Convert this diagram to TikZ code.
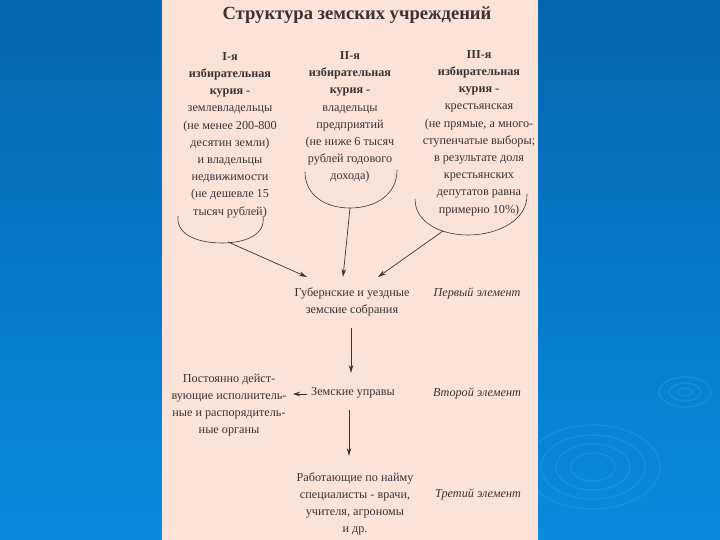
\documentclass[tikz,border=0pt]{standalone}
\usepackage{fontspec}
\setmainfont{Liberation Serif}
\usetikzlibrary{arrows.meta}
\definecolor{ink}{HTML}{3A3333}
\definecolor{bgtop}{HTML}{0466AE}
\definecolor{bgbot}{HTML}{0A8BDF}
\definecolor{panel}{HTML}{FCE3DA}
\definecolor{ripple}{HTML}{3FA4F0}
\begin{document}
\begin{tikzpicture}[x=1pt,y=-1pt,
  txt/.style={font=\fontsize{12.2}{17.2}\selectfont, text=ink, align=center, inner sep=0pt},
  itx/.style={font=\fontsize{12.2}{17.2}\selectfont\itshape, text=ink, inner sep=0pt},
  arc/.style={draw=ink, line width=0.6pt},
  arr/.style={draw=ink, line width=0.7pt, -{Stealth[length=8pt,width=4.5pt]}},
  rip/.style={draw=ripple, line width=1.6pt, opacity=0.28}]
\useasboundingbox (0,0) rectangle (720,540);
\shade[top color=bgtop, bottom color=bgbot] (0,0) rectangle (720,540);
% ripples
\foreach \rx/\ry in {67/42,52/32,37/23,22/14}{\draw[rip] (593,467) ellipse ({\rx} and {\ry});}
\foreach \rx/\ry in {26/15,16/9,7/4}{\draw[rip] (685,392) ellipse ({\rx} and {\ry});}
% panel
\fill[panel] (162,0) rectangle (538,540);
% title
\node[text=ink, font=\fontsize{18.6}{20}\selectfont\bfseries, inner sep=0pt] (title) at (357,15) {Структура земских учреждений};
% curiae
\node[txt] (c1) at (230,135) {\textbf{I-я}\\\textbf{избирательная}\\\textbf{курия -}\\землевладельцы\\(не менее 200-800\\десятин земли)\\и владельцы\\недвижимости\\(не дешевле 15\\тысяч рублей)};
\node[txt] (c2) at (350,117) {\textbf{II-я}\\\textbf{избирательная}\\\textbf{курия -}\\владельцы\\предприятий\\(не ниже 6 тысяч\\рублей годового\\дохода)};
\node[txt] (c3) at (479,133) {\textbf{III-я}\\\textbf{избирательная}\\\textbf{курия -}\\крестьянская\\(не прямые, а много-\\ступенчатые выборы;\\в результате доля\\крестьянских\\депутатов равна\\примерно 10\%)};
% arcs
\draw[arc] (178,216) .. controls (176,236) and (200,243) .. (222,243) .. controls (245,243) and (266,235) .. (263,216);
\draw[arc] (305,172) .. controls (305,195) and (325,208) .. (350,208) .. controls (375,208) and (397,195) .. (397,170);
\draw[arc] (415,199) .. controls (415,222) and (440,235) .. (468,235) .. controls (498,235) and (528,220) .. (527,194);
\coordinate (a1) at (228,242);
\coordinate (a2) at (350,208);
\coordinate (a3) at (443,231);
\coordinate (t1) at (307,277);
\coordinate (t2) at (343,277);
\coordinate (t3) at (378,277);
\draw[arr] (a1) -- (t1);
\draw[arr] (a2) -- (t2);
\draw[arr] (a3) -- (t3);
% level 1
\node[txt] (gub) at (352,302) {Губернские и уездные\\земские собрания};
\node[itx] (e1) at (477,293) {Первый элемент};
% level 2
\node[txt] (upr) at (353,393) {Земские управы};
\node[itx] (e2) at (477,393) {Второй элемент};
\node[txt] (org) at (229,405) {Постоянно дейст-\\вующие исполнитель-\\ные и распорядитель-\\ные органы};
\draw[arr] (351,328) -- (351,373);
\coordinate (l0) at (307,394);
\coordinate (l1) at (293,394);
\draw[draw=ink, line width=0.7pt, -{Stealth[length=7pt,width=4.5pt]}] (l0) -- (l1);
% level 3
\node[txt] (spec) at (355,504) {Работающие по найму\\специалисты - врачи,\\учителя, агрономы\\и др.};
\node[itx] (e3) at (478,494) {Третий элемент};
\draw[arr] (349,410) -- (349,456);
\end{tikzpicture}
\end{document}
